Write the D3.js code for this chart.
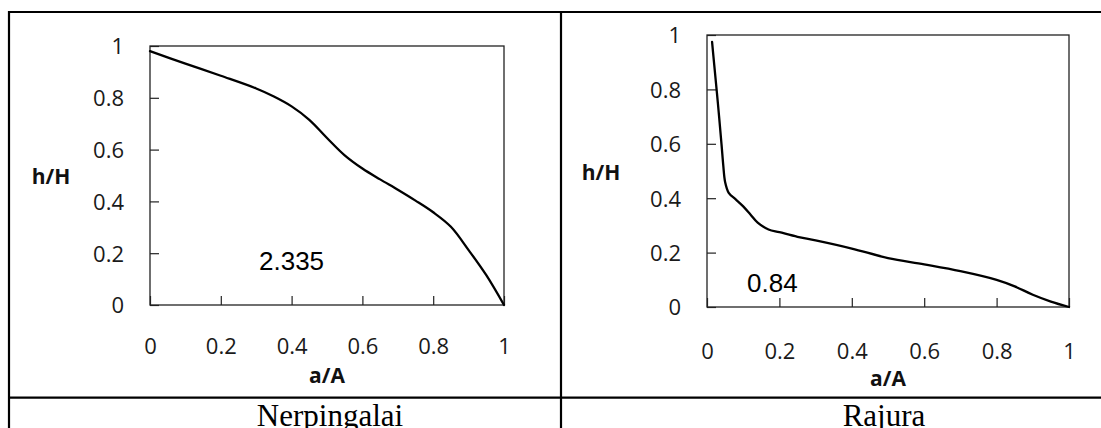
<!DOCTYPE html>
<html>
<head>
<meta charset="utf-8">
<script src="https://cdn.jsdelivr.net/npm/d3@7"></script>
<style>
  html, body { margin: 0; padding: 0; background: #fff; }
  svg { display: block; }
</style>
</head>
<body>
<svg id="chart" width="1101" height="428"></svg>
<script>
// ---- Data ----
const nerpX = [0, 0.1, 0.2, 0.3, 0.35, 0.4, 0.45, 0.5, 0.55, 0.6, 0.65, 0.7, 0.75, 0.8, 0.85, 0.9, 0.95, 1.0];
const nerpY = [0.98, 0.932, 0.885, 0.836, 0.805, 0.767, 0.715, 0.645, 0.578, 0.527, 0.485, 0.445, 0.403, 0.358, 0.302, 0.212, 0.115, 0.0];

const rajX = [0.014, 0.02, 0.03, 0.04, 0.045, 0.05, 0.06, 0.08, 0.1, 0.12, 0.14, 0.17, 0.2, 0.25, 0.3, 0.4, 0.5, 0.6, 0.7, 0.8, 0.85, 0.9, 0.95, 1.0];
const rajY = [0.975, 0.89, 0.75, 0.6, 0.52, 0.46, 0.42, 0.395, 0.37, 0.34, 0.31, 0.285, 0.275, 0.258, 0.245, 0.215, 0.18, 0.157, 0.132, 0.10, 0.076, 0.045, 0.02, 0.0];

const tickValues = [0, 0.2, 0.4, 0.6, 0.8, 1];
const tickLabels = ["0", "0.2", "0.4", "0.6", "0.8", "1"];
const xTitle = "a/A";
const yTitle = "h/H";
const captions = ["Nerpingalai", "Rajura"];
const annotations = ["2.335", "0.84"];

// ---- Layout ----
const svg = d3.select("#chart");

const panels = [
  { xs: nerpX, ys: nerpY, box: { x0: 150, x1: 504, y0: 46, y1: 305 },
    ylabPad: 26, xlabOff: 41, ytitle: { x: 51, y: 176 }, xtitle: { y: 375 },
    ann: { x: 259, y: 270 }, cap: { x: 330 } },
  { xs: rajX, ys: rajY, box: { x0: 707, x1: 1069, y0: 35, y1: 307 },
    ylabPad: 26, xlabOff: 44, ytitle: { x: 601, y: 172 }, xtitle: { y: 378 },
    ann: { x: 747, y: 292 }, cap: { x: 884 } }
];

// Table borders
const border = svg.append("g").attr("stroke", "#000").attr("stroke-width", 2.2);
border.append("line").attr("x1", 8).attr("x2", 1101).attr("y1", 12).attr("y2", 12);
border.append("line").attr("x1", 9).attr("x2", 9).attr("y1", 11).attr("y2", 428);
border.append("line").attr("x1", 561).attr("x2", 561).attr("y1", 11).attr("y2", 428);
border.append("line").attr("x1", 8).attr("x2", 1101).attr("y1", 397.7).attr("y2", 397.7);

panels.forEach((p, i) => {
  const x = d3.scaleLinear().domain([0, 1]).range([p.box.x0, p.box.x1]);
  const y = d3.scaleLinear().domain([0, 1]).range([p.box.y1, p.box.y0]);
  const g = svg.append("g");

  // Y axis (ticks inward)
  const yAxis = d3.axisLeft(y).tickValues(tickValues)
    .tickFormat((d, k) => tickLabels[k]).tickSize(-9).tickPadding(p.ylabPad);
  const yg = g.append("g").attr("transform", `translate(${p.box.x0},0)`).call(yAxis);
  yg.select(".domain").remove();
  yg.selectAll(".tick line").attr("stroke", "#222").attr("stroke-width", 1.2);
  yg.selectAll(".tick text").attr("font-family", "'Open Sans', sans-serif")
    .attr("font-size", 22).attr("fill", "#1a1a1a").attr("dy", "0.36em");

  // X axis (ticks inward)
  const xAxis = d3.axisBottom(x).tickValues(tickValues)
    .tickFormat((d, k) => tickLabels[k]).tickSize(-9).tickPadding(0);
  const xg = g.append("g").attr("transform", `translate(0,${p.box.y1})`).call(xAxis);
  xg.select(".domain").remove();
  xg.selectAll(".tick line").attr("stroke", "#222").attr("stroke-width", 1.2);
  xg.selectAll(".tick text").attr("font-family", "'Open Sans', sans-serif")
    .attr("font-size", 22).attr("fill", "#1a1a1a")
    .attr("y", p.xlabOff).attr("dy", "0.36em");

  // Plot box
  g.append("rect")
    .attr("x", p.box.x0).attr("y", p.box.y0)
    .attr("width", p.box.x1 - p.box.x0).attr("height", p.box.y1 - p.box.y0)
    .attr("fill", "none").attr("stroke", "#222").attr("stroke-width", 1.3);

  // Curve
  const pts = p.xs.map((v, k) => [v, p.ys[k]]);
  const line = d3.line().x(d => x(d[0])).y(d => y(d[1])).curve(d3.curveCatmullRom.alpha(0.5));
  g.append("path").datum(pts).attr("d", line)
    .attr("fill", "none").attr("stroke", "#000").attr("stroke-width", 2.3)
    .attr("stroke-linejoin", "round").attr("stroke-linecap", "round");

  // Axis titles
  g.append("text").attr("x", p.ytitle.x).attr("y", p.ytitle.y).attr("dy", "0.36em")
    .attr("text-anchor", "middle").attr("font-family", "'Open Sans', sans-serif")
    .attr("font-weight", "bold").attr("font-size", 21).attr("fill", "#111").text(yTitle);
  g.append("text").attr("x", (p.box.x0 + p.box.x1) / 2).attr("y", p.xtitle.y).attr("dy", "0.36em")
    .attr("text-anchor", "middle").attr("font-family", "'Open Sans', sans-serif")
    .attr("font-weight", "bold").attr("font-size", 21).attr("fill", "#111").text(xTitle);

  // Annotation
  g.append("text").attr("x", p.ann.x).attr("y", p.ann.y)
    .attr("font-family", "'Liberation Sans', Arial, sans-serif")
    .attr("font-size", 26).attr("fill", "#000").text(annotations[i]);

  // Caption (cut off by the bottom edge, as in the reference)
  g.append("text").attr("x", p.cap.x).attr("y", 426).attr("text-anchor", "middle")
    .attr("font-family", "'Liberation Serif', 'Times New Roman', serif")
    .attr("font-size", 31).attr("fill", "#000").text(captions[i]);
});
</script>
</body>
</html>
